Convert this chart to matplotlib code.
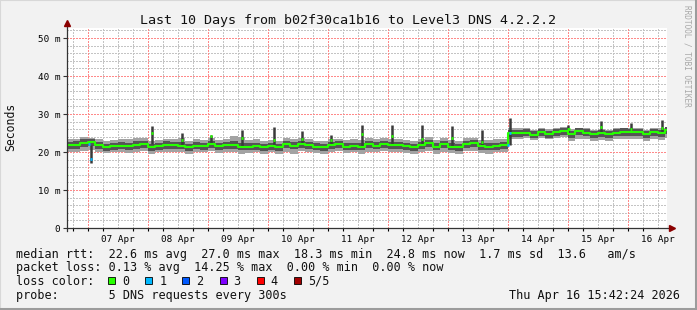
import matplotlib
matplotlib.use("Agg")
import matplotlib.pyplot as plt
from matplotlib.patches import Rectangle
import numpy as np

# time axis: hours since 06 Apr 00:00, one sample every 3 hours
hours = list(range(15, 256, 3))
t_start = 15.7
t_end = 255.7

median = [21.8, 21.8, 22.4, 22.7, 21.8, 21.2, 21.6, 21.7, 21.6, 21.8,
          22.1, 21.2, 21.6, 21.8, 21.8, 21.7, 21.2, 21.7, 21.6, 22.0,
          21.6, 21.8, 21.9, 21.4, 21.4, 21.6, 21.2, 21.6, 21.2, 22.0,
          21.7, 22.0, 21.8, 21.4, 21.2, 21.8, 22.0, 21.4, 21.6, 21.4,
          22.0, 21.7, 22.0, 21.8, 21.8, 21.6, 21.2, 21.8, 22.3, 21.4,
          22.0, 21.4, 21.2, 22.0, 22.3, 21.6, 21.4, 21.6, 21.8, 24.9,
          24.9, 25.1, 24.6, 25.2, 24.7, 25.2, 25.4, 24.7, 25.4, 25.1,
          24.7, 24.9, 24.7, 25.1, 25.3, 25.2, 25.2, 24.7, 25.2, 24.9,
          25.8]

# outer smoke (light grey)
smoke_lo = [20.1, 20.0, 20.3, 20.5, 20.0, 19.7, 19.9, 20.1, 19.8, 20.0,
            20.3, 19.6, 19.9, 20.0, 20.1, 19.9, 19.5, 20.0, 19.9, 20.2,
            19.8, 20.0, 20.1, 19.4, 19.7, 20.0, 19.6, 19.9, 19.6, 20.1,
            19.5, 20.2, 20.0, 19.7, 19.6, 20.1, 20.2, 19.7, 19.9, 19.6,
            20.1, 19.9, 20.2, 20.0, 19.9, 19.8, 19.5, 20.0, 20.3, 19.6,
            20.1, 19.7, 19.5, 20.2, 20.3, 19.8, 19.6, 19.9, 20.0, 23.4,
            23.5, 23.6, 23.2, 23.8, 23.3, 23.6, 23.9, 23.0, 23.5, 23.3,
            22.9, 23.2, 23.0, 23.4, 23.3, 23.5, 23.4, 23.0, 23.4, 23.2,
            23.6]

smoke_hi = [23.3, 23.4, 23.9, 23.7, 23.3, 23.0, 23.2, 23.4, 23.3, 23.8,
            23.6, 22.9, 23.2, 23.5, 23.4, 23.7, 23.0, 23.3, 23.2, 23.6,
            23.2, 23.5, 24.1, 23.9, 23.1, 23.3, 22.9, 23.2, 23.0, 23.6,
            23.3, 23.7, 23.4, 23.0, 22.9, 23.3, 23.5, 23.1, 23.3, 23.2,
            23.6, 23.4, 23.7, 23.4, 23.3, 23.2, 23.0, 23.3, 23.9, 23.1,
            23.6, 23.1, 22.9, 23.6, 23.8, 23.2, 23.1, 23.3, 23.3, 26.2,
            26.3, 26.2, 25.9, 26.4, 26.0, 26.4, 26.5, 26.0, 26.4, 26.2,
            25.9, 26.1, 25.9, 26.4, 26.4, 26.3, 26.2, 25.9, 26.4, 26.3,
            26.6]

# inner smoke (dark grey)
core_lo = [20.8, 20.8, 21.4, 21.6, 20.8, 20.3, 20.6, 20.7, 20.6, 20.8,
           21.1, 20.2, 20.6, 20.8, 20.8, 20.7, 20.2, 20.7, 20.6, 21.0,
           20.6, 20.8, 20.9, 20.4, 20.4, 20.6, 20.2, 20.6, 20.2, 21.0,
           20.7, 21.0, 20.8, 20.4, 20.2, 20.8, 21.0, 20.4, 20.6, 20.4,
           21.0, 20.7, 21.0, 20.8, 20.8, 20.6, 20.2, 20.8, 21.3, 20.4,
           21.0, 20.4, 20.2, 21.0, 21.3, 20.6, 20.4, 20.6, 20.8, 23.9,
           24.0, 24.1, 23.7, 24.2, 23.7, 24.2, 24.4, 23.7, 24.4, 24.1,
           23.7, 23.9, 23.7, 24.1, 24.3, 24.2, 24.2, 23.7, 24.2, 23.9,
           24.7]

core_hi = [22.7, 22.8, 23.3, 23.5, 22.7, 22.2, 22.5, 22.7, 22.5, 22.8,
           23.0, 22.2, 22.5, 22.8, 22.7, 22.7, 22.1, 22.6, 22.5, 23.0,
           22.5, 22.7, 22.9, 22.4, 22.3, 22.5, 22.1, 22.5, 22.2, 22.9,
           22.6, 23.0, 22.7, 22.3, 22.1, 22.7, 23.0, 22.3, 22.5, 22.3,
           22.9, 22.6, 23.0, 22.7, 22.7, 22.5, 22.1, 22.7, 23.2, 22.3,
           22.9, 22.3, 22.1, 22.9, 23.2, 22.5, 22.3, 22.5, 22.7, 25.8,
           25.8, 26.0, 25.5, 26.1, 25.6, 26.1, 26.3, 25.6, 26.3, 26.0,
           25.6, 25.8, 25.6, 26.0, 26.2, 26.1, 26.1, 25.6, 26.1, 25.8,
           26.5]

# short single-pixel excursions
spike_hours = [25.2, 49.6, 61.6, 73.2, 85.6, 98.4, 109.6, 121.2, 133.6,
               145.6, 157.6, 169.6, 181.6, 192.8, 216.2, 229.2, 241.2, 253.6]
spike_base = [21.8, 22.0, 21.8, 22.0, 21.6, 21.5, 22.0, 21.8, 21.6,
              21.8, 21.8, 21.6, 21.6, 21.9, 24.8, 24.9, 25.2, 25.0]
spike_tops = [17.2, 26.8, 24.9, 24.6, 25.8, 26.5, 25.5, 24.5, 27.1,
              27.1, 27.1, 26.8, 25.8, 28.9, 27.1, 28.2, 27.6, 28.4]
spike_meds = [18.2, 24.9, 23.2, 24.2, 23.8, 23.2, 23.4, 23.2, 24.7,
              24.3, 23.3, 23.6, 22.7, 24.9, 26.0, 26.6, 26.0, 26.2]
spike_loss = [1, 0, 0, 0, 0, 0, 0, 0, 0, 0, 0, 0, 0, 1, 0, 0, 0, 0]

loss_mark_hours = [24.4, 192.0]
loss_mark_vals = [22.0, 21.9]

day_noons = [36, 60, 84, 108, 132, 156, 180, 204, 228, 252]
day_labels = ["07 Apr", "08 Apr", "09 Apr", "10 Apr", "11 Apr",
              "12 Apr", "13 Apr", "14 Apr", "15 Apr", "16 Apr"]
y_ticks = [0, 10, 20, 30, 40, 50]
y_tick_labels = ["0", "10 m", "20 m", "30 m", "40 m", "50 m"]

loss_labels = ["0", "1", "2", "3", "4", "5/5"]
loss_colors = ["#26ff00", "#00b8ff", "#0059ff", "#7e00ff", "#ff0000", "#a10000"]

rtt_line = "median rtt:  22.6 ms avg  27.0 ms max  18.3 ms min  24.8 ms now  1.7 ms sd  13.6   am/s"
loss_line = "packet loss: 0.13 % avg  14.25 % max  0.00 % min  0.00 % now"
probe_line = "probe:       5 DNS requests every 300s"
stamp = "Thu Apr 16 15:42:24 2026"

W, H = 697, 310
plt.rcParams["font.family"] = ["DejaVu Sans Mono"]
plt.rcParams["lines.scale_dashes"] = False

fig = plt.figure(figsize=(W / 100, H / 100), dpi=100)
fig.patch.set_facecolor("#f2f2f2")


def fx(px):
    return px / W


def fy(py):
    return 1 - py / H


# frame around the canvas
fig.patches.append(Rectangle((0, 0), 1, 1, transform=fig.transFigure, fill=False,
                             edgecolor="#d8d8d8", lw=1.5))
fig.add_artist(plt.Line2D([fx(696), fx(696)], [0, 1], color="#9c9c9c", lw=2.2))
fig.add_artist(plt.Line2D([0, 1], [fy(309), fy(309)], color="#9c9c9c", lw=2.2))

ax = fig.add_axes([fx(67), fy(228), fx(600), 200 / H])
ax.set_facecolor("white")
ax.set_xlim(t_start, t_end)
ax.set_ylim(0, 200 / 3.8)

# grid, dotted (dash lengths in points: 1.44 pt = 2 px)
dot = dict(lw=0.72, ls=(0, (1.44, 1.44)), antialiased=False)
for h in np.arange(18, t_end, 6):
    if h % 24 == 0:
        ax.axvline(h, color="#ff8a8a", zorder=0.5, **dot)
    else:
        ax.axvline(h, color="#c4c4c4", zorder=0.3, **dot)
for v in np.arange(2, 53, 2):
    if v % 10 == 0:
        ax.axhline(v, color="#ff8a8a", zorder=0.5, **dot)
    else:
        ax.axhline(v, color="#c4c4c4", zorder=0.3, **dot)

# smoke
xs = hours + [t_end]
ext = lambda a: list(a) + [a[-1]]
ax.fill_between(xs, ext(smoke_lo), ext(smoke_hi), step="post", color="#a3a3a3", lw=0, zorder=2)
ax.fill_between(xs, ext(core_lo), ext(core_hi), step="post", color="#555555", lw=0, zorder=3)

# spikes
for h, b, t, m, l in zip(spike_hours, spike_base, spike_tops, spike_meds, spike_loss):
    ax.vlines(h, b, t, colors="#3a3a3a", lw=1.8, zorder=4)
    ax.hlines(m, h - 0.5, h + 0.5, colors=loss_colors[l], lw=2, zorder=6)

# median
ax.step(xs, ext(median), where="post", color="#26ff00", lw=1.5, zorder=5)
ax.hlines(loss_mark_vals, np.array(loss_mark_hours) - 0.5, np.array(loss_mark_hours) + 0.5,
          colors=loss_colors[1], lw=2, zorder=6)

# axes and ticks
for s in ax.spines.values():
    s.set_visible(False)
ax.plot([0, 0], [-0.015, 1.02], transform=ax.transAxes, color="#333333", lw=0.9,
        clip_on=False, zorder=7)
ax.plot([0, 1.005], [0, 0], transform=ax.transAxes, color="#333333", lw=0.9,
        clip_on=False, zorder=7)
ax.plot([0], [1.025], transform=ax.transAxes, marker="^", ms=4.5, color="#8b0000",
        clip_on=False, zorder=8)
ax.plot([1.008], [0], transform=ax.transAxes, marker=">", ms=4.5, color="#8b0000",
        clip_on=False, zorder=8)

ax.set_yticks(y_ticks)
ax.set_yticklabels(y_tick_labels)
ax.tick_params(axis="y", length=3, width=0.8, color="#333333", pad=2, labelsize=6.7)
ax.set_xticks(day_noons)
ax.set_xticklabels(day_labels)
ax.tick_params(axis="x", length=0, pad=5, labelsize=6.7)
ax.set_xticks(np.arange(18, t_end, 6), minor=True)
ax.tick_params(axis="x", which="minor", length=2, width=0.8)
for h, tk in zip(np.arange(18, t_end, 6), ax.xaxis.get_minor_ticks()):
    tk.tick1line.set_color("#ff6060" if h % 24 == 0 else "#aaaaaa")

# texts
fig.text(fx(348), fy(24), "Last 10 Days from b02f30ca1b16 to Level3 DNS 4.2.2.2",
         ha="center", va="baseline", fontsize=9.6, color="#111111")
fig.text(fx(11), fy(127), "Seconds", rotation=90, ha="center", va="center",
         fontsize=8.3, color="#111111")
fig.text(fx(687), fy(5), "RRDTOOL / TOBI OETIKER", rotation=270, ha="center", va="top",
         fontsize=5.6, color="#a8a8a8")

leg = 8.5
fig.text(fx(16), fy(258), rtt_line, va="baseline", fontsize=leg, color="#111111")
fig.text(fx(16), fy(271.5), loss_line, va="baseline", fontsize=leg, color="#111111")

fig.text(fx(16), fy(285), "loss color:", va="baseline", fontsize=leg, color="#111111")
for i, (lab, col) in enumerate(zip(loss_labels, loss_colors)):
    x0 = 108 + i * 37.2
    fig.patches.append(Rectangle((fx(x0), fy(284)), fx(7), 7 / H, transform=fig.transFigure,
                                 facecolor=col, edgecolor="black", lw=0.6))
    fig.text(fx(x0 + 14), fy(285), lab, va="baseline", fontsize=leg, color="#111111")

fig.text(fx(16), fy(298.5), probe_line, va="baseline", fontsize=leg, color="#111111")
fig.text(fx(680), fy(298.5), stamp, ha="right", va="baseline", fontsize=leg, color="#111111")

fig.savefig("out.png", dpi=100, facecolor=fig.get_facecolor())
